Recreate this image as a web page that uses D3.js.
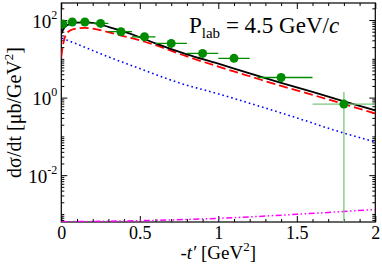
<!DOCTYPE html>
<html><head><meta charset="utf-8">
<script src="https://cdn.jsdelivr.net/npm/d3@7"></script>
<style>
body{margin:0;background:#fff}
svg{display:block}
text{font-family:"Liberation Serif","Times New Roman",serif;fill:#000}
</style>
</head><body>
<svg id="c" width="382" height="265"></svg>
<script>
// ---- data ----
const dataT    = [0.01, 0.07, 0.15, 0.25, 0.38, 0.53, 0.70, 0.90, 1.10, 1.40, 1.80];
const dataV    = [79, 89, 89, 82, 50, 37, 25, 13.8, 10.3, 3.3, 0.68];
const dataTLo  = [0.0, 0.04, 0.12, 0.20, 0.30, 0.45, 0.60, 0.80, 1.00, 1.25, 1.60];
const dataTHi  = [0.03, 0.10, 0.18, 0.30, 0.45, 0.60, 0.80, 1.00, 1.20, 1.60, 2.00];
const dataVLo  = [75, 85, 85, 78, 47, 35, 23.5, 13, 9.7, 3.1, 0.0001];
const dataVHi  = [83, 93, 93, 86, 53, 39, 26.5, 14.6, 10.9, 3.5, 1.4];

const totalT = [0, 0.01, 0.03, 0.06, 0.1, 0.15, 0.2, 0.3, 0.4, 0.5, 0.6, 0.8, 1.0, 1.2, 1.4, 1.6, 1.8, 2.0];
const totalV = [44, 55, 70, 80, 86, 87, 84, 67, 50, 36, 25, 13, 7.5, 4.2, 2.4, 1.4, 0.8, 0.47];

const redT = [0, 0.01, 0.02, 0.04, 0.07, 0.1, 0.15, 0.2, 0.3, 0.4, 0.5, 0.6, 0.8, 1.0, 1.2, 1.4, 1.6, 1.8, 2.0];
const redV = [11, 22, 33, 48, 57, 61, 63, 60, 49, 38, 30, 22.5, 11.5, 6.3, 3.55, 2.0, 1.18, 0.68, 0.39];

const blueT = [0.005, 0.1, 0.25, 0.5, 0.75, 1.0, 1.25, 1.5, 1.75, 2.0];
const blueV = [34, 24, 13.5, 5.6, 2.4, 1.25, 0.62, 0.3, 0.14, 0.072];

const magT = [0, 0.5, 1.0, 1.5, 2.0];
const magV = [6.3e-4, 6.7e-4, 7.7e-4, 9.8e-4, 1.3e-3];

const xTickVals   = [0, 0.5, 1, 1.5, 2];
const xTickLabels = ["0", "0.5", "1", "1.5", "2"];
const yTickVals   = [1e2, 1e0, 1e-2];
const yTickExps   = ["2", "0", "-2"];

// ---- layout ----
const svg = d3.select("#c");
const L = 61.3, R = 375.3, T = 3, B = 222;
const x = d3.scaleLinear().domain([0, 2]).range([L, R]);
const y = d3.scaleLog().domain([6.2e-4, 275]).range([B, T]);

const xMinor = d3.range(0, 2.0001, 0.1).map(v => +v.toFixed(2)).filter(v => !xTickVals.includes(v));
const yMinor = [];
for (let d = -4; d <= 2; d++) for (let k = 1; k <= 9; k++) {
  const v = k * Math.pow(10, d);
  if (v >= 6.2e-4 && v <= 275 && !yTickVals.some(m => Math.abs(m - v) / m < 1e-9)) yMinor.push(v);
}

function styleAxis(g) {
  g.select(".domain").remove();
  g.selectAll("line").attr("stroke", "#000").attr("stroke-width", 1);
  g.attr("font-family", null).attr("font-size", null);
}

// bottom
svg.append("g").attr("transform", `translate(0,${B})`)
  .call(d3.axisBottom(x).tickValues(xTickVals).tickSize(-6).tickPadding(17)
        .tickFormat((d, i) => xTickLabels[i]))
  .call(styleAxis)
  .call(g => g.selectAll("text").attr("font-size", 18).attr("dy", null).attr("y", 16.5));
svg.append("g").attr("transform", `translate(0,${B})`)
  .call(d3.axisBottom(x).tickValues(xMinor).tickSize(-3).tickFormat(""))
  .call(styleAxis);
// top
svg.append("g").attr("transform", `translate(0,${T})`)
  .call(d3.axisTop(x).tickValues(xTickVals).tickSize(-6).tickFormat(""))
  .call(styleAxis);
svg.append("g").attr("transform", `translate(0,${T})`)
  .call(d3.axisTop(x).tickValues(xMinor).tickSize(-3).tickFormat(""))
  .call(styleAxis);
// left
const gl = svg.append("g").attr("transform", `translate(${L},0)`)
  .call(d3.axisLeft(y).tickValues(yTickVals).tickSize(-6).tickFormat(""))
  .call(styleAxis);
gl.selectAll(".tick").each(function(d, i) {
  const t = d3.select(this).append("text")
    .attr("x", -4).attr("y", 7).attr("text-anchor", "end")
    .attr("font-size", 19);
  t.append("tspan").text("10");
  t.append("tspan").attr("dy", -9).attr("font-size", 12).text(yTickExps[i]);
});
svg.append("g").attr("transform", `translate(${L},0)`)
  .call(d3.axisLeft(y).tickValues(yMinor).tickSize(-3).tickFormat(""))
  .call(styleAxis);
// right
svg.append("g").attr("transform", `translate(${R},0)`)
  .call(d3.axisRight(y).tickValues(yTickVals).tickSize(-6).tickFormat(""))
  .call(styleAxis);
svg.append("g").attr("transform", `translate(${R},0)`)
  .call(d3.axisRight(y).tickValues(yMinor).tickSize(-3).tickFormat(""))
  .call(styleAxis);

// frame
svg.append("rect").attr("x", L).attr("y", T).attr("width", R - L).attr("height", B - T)
  .attr("fill", "none").attr("stroke", "#000").attr("stroke-width", 1.2);

// clip
svg.append("clipPath").attr("id", "clip").append("rect")
  .attr("x", L).attr("y", T).attr("width", R - L).attr("height", B - T);
const plot = svg.append("g").attr("clip-path", "url(#clip)");

const line = d3.line().x(d => x(d[0])).y(d => y(d[1])).curve(d3.curveMonotoneX);

plot.append("path").datum(magT.map((t, i) => [t, magV[i]])).attr("d", line)
  .attr("fill", "none").attr("stroke", "#ff00ff").attr("stroke-width", 1.5)
  .attr("stroke-dasharray", "6,2.5,1.5,2.5,1.5,2.5");
plot.append("path").datum(blueT.map((t, i) => [t, blueV[i]])).attr("d", line)
  .attr("fill", "none").attr("stroke", "#0000ff").attr("stroke-width", 1.6)
  .attr("stroke-dasharray", "1.6,3");
plot.append("path").datum(redT.map((t, i) => [t, redV[i]])).attr("d", line)
  .attr("fill", "none").attr("stroke", "#ff0000").attr("stroke-width", 1.8)
  .attr("stroke-dasharray", "9,4");
plot.append("path").datum(totalT.map((t, i) => [t, totalV[i]])).attr("d", line)
  .attr("fill", "none").attr("stroke", "#000").attr("stroke-width", 1.8);

// data points
const pts = dataT.map((t, i) => ({t, v: dataV[i], tlo: dataTLo[i], thi: dataTHi[i], vlo: dataVLo[i], vhi: dataVHi[i], last: i === dataT.length - 1}));
const gp = plot.append("g");
gp.selectAll("line.h").data(pts).join("line").attr("class", "h")
  .attr("x1", d => x(d.tlo)).attr("x2", d => x(d.thi))
  .attr("y1", d => y(d.v)).attr("y2", d => y(d.v))
  .attr("stroke", d => d.last ? "#7cc47c" : "#008b00").attr("stroke-width", 1.3);
gp.selectAll("line.v").data(pts).join("line").attr("class", "v")
  .attr("x1", d => x(d.t)).attr("x2", d => x(d.t))
  .attr("y1", d => y(d.vlo)).attr("y2", d => y(d.vhi))
  .attr("stroke", d => d.last ? "#7cc47c" : "#008b00").attr("stroke-width", 1.3);
gp.selectAll("circle").data(pts).join("circle")
  .attr("cx", d => x(d.t)).attr("cy", d => y(d.v)).attr("r", 4.5)
  .attr("fill", "#008b00");

// annotation
const ann = svg.append("text").attr("x", 189).attr("y", 33).attr("font-size", 23);
ann.append("tspan").text("P");
ann.append("tspan").attr("font-size", 15).attr("dy", 5).text("lab");
ann.append("tspan").attr("dy", -5).text(" = 4.5 GeV/");
ann.append("tspan").attr("font-style", "italic").text("c");

// axis labels
const xl = svg.append("text").attr("x", x(1)).attr("y", 258.5).attr("text-anchor", "middle").attr("font-size", 19);
xl.append("tspan").text("-");
xl.append("tspan").attr("font-style", "italic").text("t′");
xl.append("tspan").text(" [GeV");
xl.append("tspan").attr("font-size", 13).attr("dy", -8).text("2");
xl.append("tspan").attr("dy", 8).text("]");

const yl = svg.append("text").attr("transform", `translate(21,${(T + B) / 2}) rotate(-90)`)
  .attr("text-anchor", "middle").attr("font-size", 20);
yl.append("tspan").text("dσ/dt [μb/GeV");
yl.append("tspan").attr("font-size", 13).attr("dy", -8).text("2");
yl.append("tspan").attr("dy", 8).text("]");
</script>
</body></html>
